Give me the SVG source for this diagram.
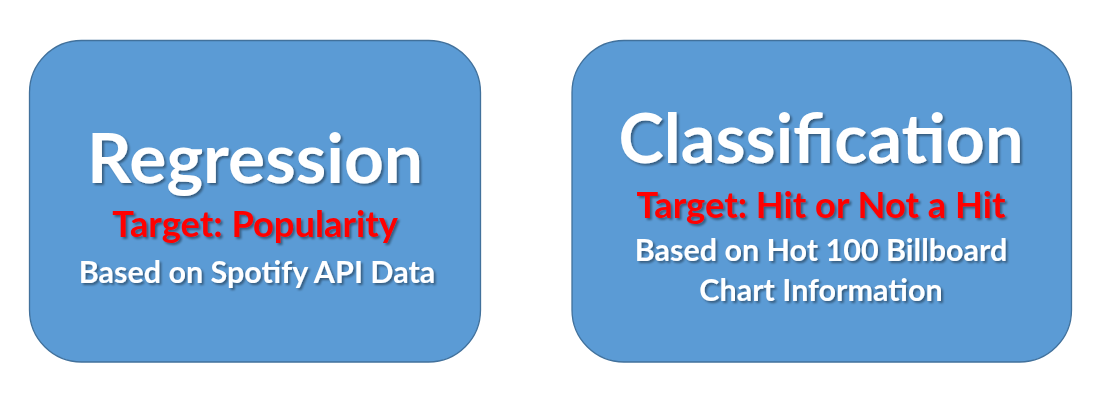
<svg xmlns="http://www.w3.org/2000/svg" width="1097" height="416" viewBox="0 0 1097 416">
  <style>
    .box { fill: #5B9BD5; stroke: #41719C; stroke-width: 1.3; }
    .t { font-family: Lato, "Open Sans", "Liberation Sans", sans-serif; font-weight: bold; text-anchor: middle; filter: url(#shadow); }
    .title { fill: #FFFFFF; font-size: 69.5px; }
    .target { fill: #FF0000; font-size: 36.3px; }
    .sub { fill: #FFFFFF; font-size: 30.5px; }
  </style>
  <defs>
    <filter id="shadow" x="-10%" y="-20%" width="120%" height="150%">
      <feDropShadow dx="2" dy="2" stdDeviation="1.2" flood-color="#000000" flood-opacity="0.4"/>
    </filter>
  </defs>
  <rect width="1097" height="416" fill="#FFFFFF"/>
  <g id="regression">
    <rect class="box" x="29.5" y="40.5" width="451" height="321.5" rx="52" ry="52"/>
    <text class="t title" x="255" y="183">Regression</text>
    <text class="t target" x="255" y="237">Target: Popularity</text>
    <text class="t sub" x="257" y="283">Based on Spotify API Data</text>
  </g>
  <g id="classification">
    <rect class="box" x="572" y="40.5" width="499.5" height="321.5" rx="52" ry="52"/>
    <text class="t title" x="821" y="163" style="font-size:68.5px">Classification</text>
    <text class="t target" x="821" y="218">Target: Hit or Not a Hit</text>
    <text class="t sub" x="821" y="261">Based on Hot 100 Billboard</text>
    <text class="t sub" x="821" y="301">Chart Information</text>
  </g>
  <g id="connectors"/>
</svg>
